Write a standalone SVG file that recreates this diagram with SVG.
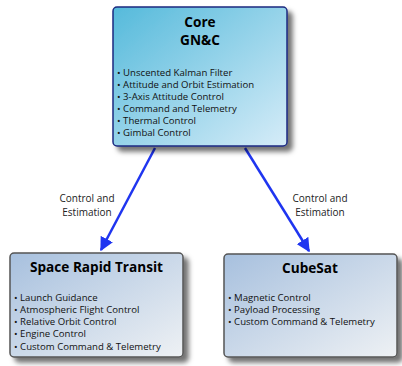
<svg xmlns="http://www.w3.org/2000/svg" width="402" height="366" viewBox="0 0 402 366">
<defs>
<linearGradient id="gCore" x1="0" y1="0" x2="1" y2="1">
<stop offset="0" stop-color="#55badb"/>
<stop offset="1" stop-color="#d6ecf8"/>
</linearGradient>
<linearGradient id="gSub" x1="0" y1="0" x2="1" y2="1">
<stop offset="0" stop-color="#a7c0de"/>
<stop offset="1" stop-color="#eef1f4"/>
</linearGradient>
<filter id="sh" x="-10%" y="-10%" width="130%" height="130%">
<feDropShadow dx="5" dy="5" stdDeviation="2.5" flood-color="#000" flood-opacity="0.55"/>
</filter>
<marker id="ah" viewBox="0 0 10 10" refX="9" refY="5" markerWidth="5.5" markerHeight="5.5" orient="auto" markerUnits="strokeWidth">
<path d="M0,0 L10,5 L0,10 z" fill="#1f35f0"/>
</marker>
<style>
.title{font-family:"Open Sans","Lato",sans-serif;font-weight:bold;font-size:13.6px;fill:#000;text-anchor:middle}
.item{font-family:"Open Sans","Lato",sans-serif;font-size:9.6px;fill:#111}
.lbl{font-family:"Open Sans","Lato",sans-serif;font-size:10px;fill:#222;text-anchor:middle}
.conn{stroke:#1f35f0;stroke-width:2.5;fill:none;marker-end:url(#ah)}
</style>
</defs>
<rect width="402" height="366" fill="#fff"/>
<g id="connectors">
<line class="conn" x1="155" y1="148" x2="101" y2="250"/>
<line class="conn" x1="245" y1="148" x2="309" y2="251"/>
<text class="lbl" x="87" y="202">Control and</text>
<text class="lbl" x="87" y="216">Estimation</text>
<text class="lbl" x="320" y="202">Control and</text>
<text class="lbl" x="320" y="216">Estimation</text>
</g>
<g id="core">
<rect x="113" y="7" width="174" height="139" rx="4" fill="url(#gCore)" stroke="#1c2a80" stroke-width="1.5" filter="url(#sh)"/>
<text class="title" x="200" y="27">Core</text>
<text class="title" x="200" y="45">GN&amp;C</text>
<text class="item" x="117" y="75.5">• Unscented Kalman Filter</text>
<text class="item" x="117" y="87.5">• Attitude and Orbit Estimation</text>
<text class="item" x="117" y="99.5">• 3-Axis Attitude Control</text>
<text class="item" x="117" y="111.5">• Command and Telemetry</text>
<text class="item" x="117" y="123.5">• Thermal Control</text>
<text class="item" x="117" y="135.5">• Gimbal Control</text>
</g>
<g id="srt">
<rect x="10" y="253" width="173" height="104" rx="4" fill="url(#gSub)" stroke="#555" stroke-width="1.5" filter="url(#sh)"/>
<text class="title" x="96.5" y="272">Space Rapid Transit</text>
<text class="item" x="14" y="301">• Launch Guidance</text>
<text class="item" x="14" y="313">• Atmospheric Flight Control</text>
<text class="item" x="14" y="325">• Relative Orbit Control</text>
<text class="item" x="14" y="337">• Engine Control</text>
<text class="item" x="14" y="350">• Custom Command &amp; Telemetry</text>
</g>
<g id="cubesat">
<rect x="224" y="254" width="173" height="103" rx="4" fill="url(#gSub)" stroke="#555" stroke-width="1.5" filter="url(#sh)"/>
<text class="title" x="310" y="273">CubeSat</text>
<text class="item" x="228" y="301">• Magnetic Control</text>
<text class="item" x="228" y="313">• Payload Processing</text>
<text class="item" x="228" y="325">• Custom Command &amp; Telemetry</text>
</g>
</svg>
